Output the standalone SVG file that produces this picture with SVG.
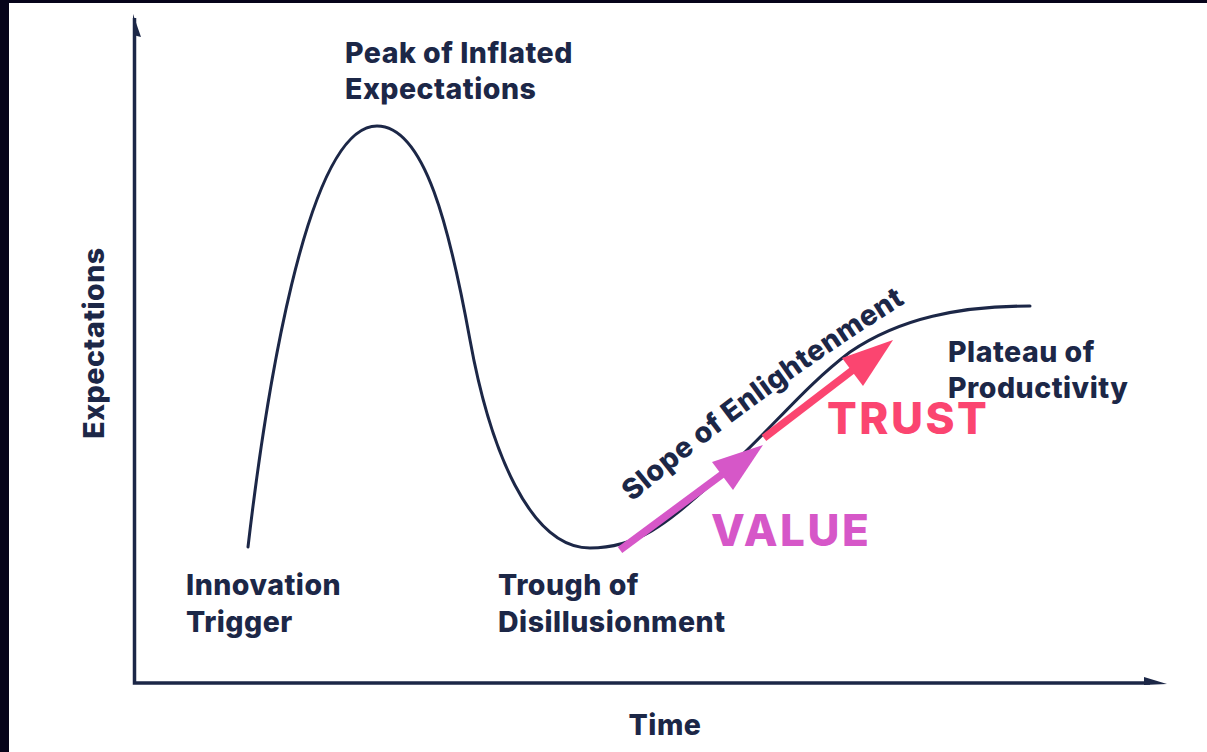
<svg xmlns="http://www.w3.org/2000/svg" width="1207" height="752" viewBox="0 0 1207 752">
  <style>
    .lbl { font-family: Inter, "Liberation Sans", Arial, sans-serif; font-weight: 800; font-size: 28.5px; letter-spacing: 0.5px; fill: #1c2747; }
    .axis { stroke: #1c2747; stroke-width: 3.5; fill: none; }
    .hype { stroke: #1c2747; stroke-width: 3; fill: none; stroke-linecap: round; }
    .big { font-family: Inter, "Liberation Sans", Arial, sans-serif; font-weight: 800; font-size: 44px; letter-spacing: 2.5px; }
  </style>
  <defs>
    <path id="slopePath" d="M632,502 Q 765,390 920,294"/>
  </defs>

  <!-- canvas and dark frame -->
  <rect x="0" y="0" width="1207" height="752" fill="#ffffff"/>
  <rect x="0" y="0" width="9" height="752" fill="#06041a"/>
  <rect x="0" y="0" width="1207" height="3" fill="#06041a"/>

  <!-- axes -->
  <g id="axes">
    <path class="axis" d="M134.5,18 V683 H1150"/>
    <polygon points="133,14 141,37 133,35" fill="#1c2747"/>
    <polygon points="1144,677 1167,684 1144,685" fill="#1c2747"/>
  </g>

  <!-- hype cycle curve -->
  <g id="curve">
    <path class="hype" d="M248,547 C264,410 305,126 377,126 C425,126 450,230 470,340 C490,450 530,548 590,548 C640,548 670,520 710,485 C770,432 800,390 850,352 C900,318 960,306 1030,306"/>
  </g>

  <!-- phase labels -->
  <g id="peak">
    <text class="lbl" x="345" y="63">Peak of Inflated</text>
    <text class="lbl" x="345" y="99">Expectations</text>
  </g>
  <g id="trigger">
    <text class="lbl" x="186" y="595">Innovation</text>
    <text class="lbl" x="186" y="632">Trigger</text>
  </g>
  <g id="trough">
    <text class="lbl" x="498" y="595">Trough of</text>
    <text class="lbl" x="498" y="632">Disillusionment</text>
  </g>
  <g id="slope">
    <text class="lbl"><textPath href="#slopePath">Slope of Enlightenment</textPath></text>
  </g>
  <g id="plateau">
    <text class="lbl" x="948" y="362">Plateau of</text>
    <text class="lbl" x="948" y="398">Productivity</text>
  </g>
  <g id="axis-labels">
    <text class="lbl" x="665" y="735" text-anchor="middle">Time</text>
    <text class="lbl" transform="translate(104,343) rotate(-90)" text-anchor="middle">Expectations</text>
  </g>

  <!-- value and trust arrows -->
  <g id="connectors">
    <g id="value-arrow">
      <line x1="620" y1="550" x2="728" y2="470" stroke="#d657c8" stroke-width="7.5"/>
      <polygon points="763,445 712,462 733,490" fill="#d657c8"/>
    </g>
    <g id="trust-arrow">
      <line x1="764" y1="438" x2="858" y2="366" stroke="#fb4570" stroke-width="7.5"/>
      <polygon points="893,340 842,358 863,386" fill="#fb4570"/>
    </g>
  </g>
  <text class="big" x="711" y="546" fill="#d657c8">VALUE</text>
  <text class="big" x="827" y="434" fill="#fb4570">TRUST</text>
</svg>
